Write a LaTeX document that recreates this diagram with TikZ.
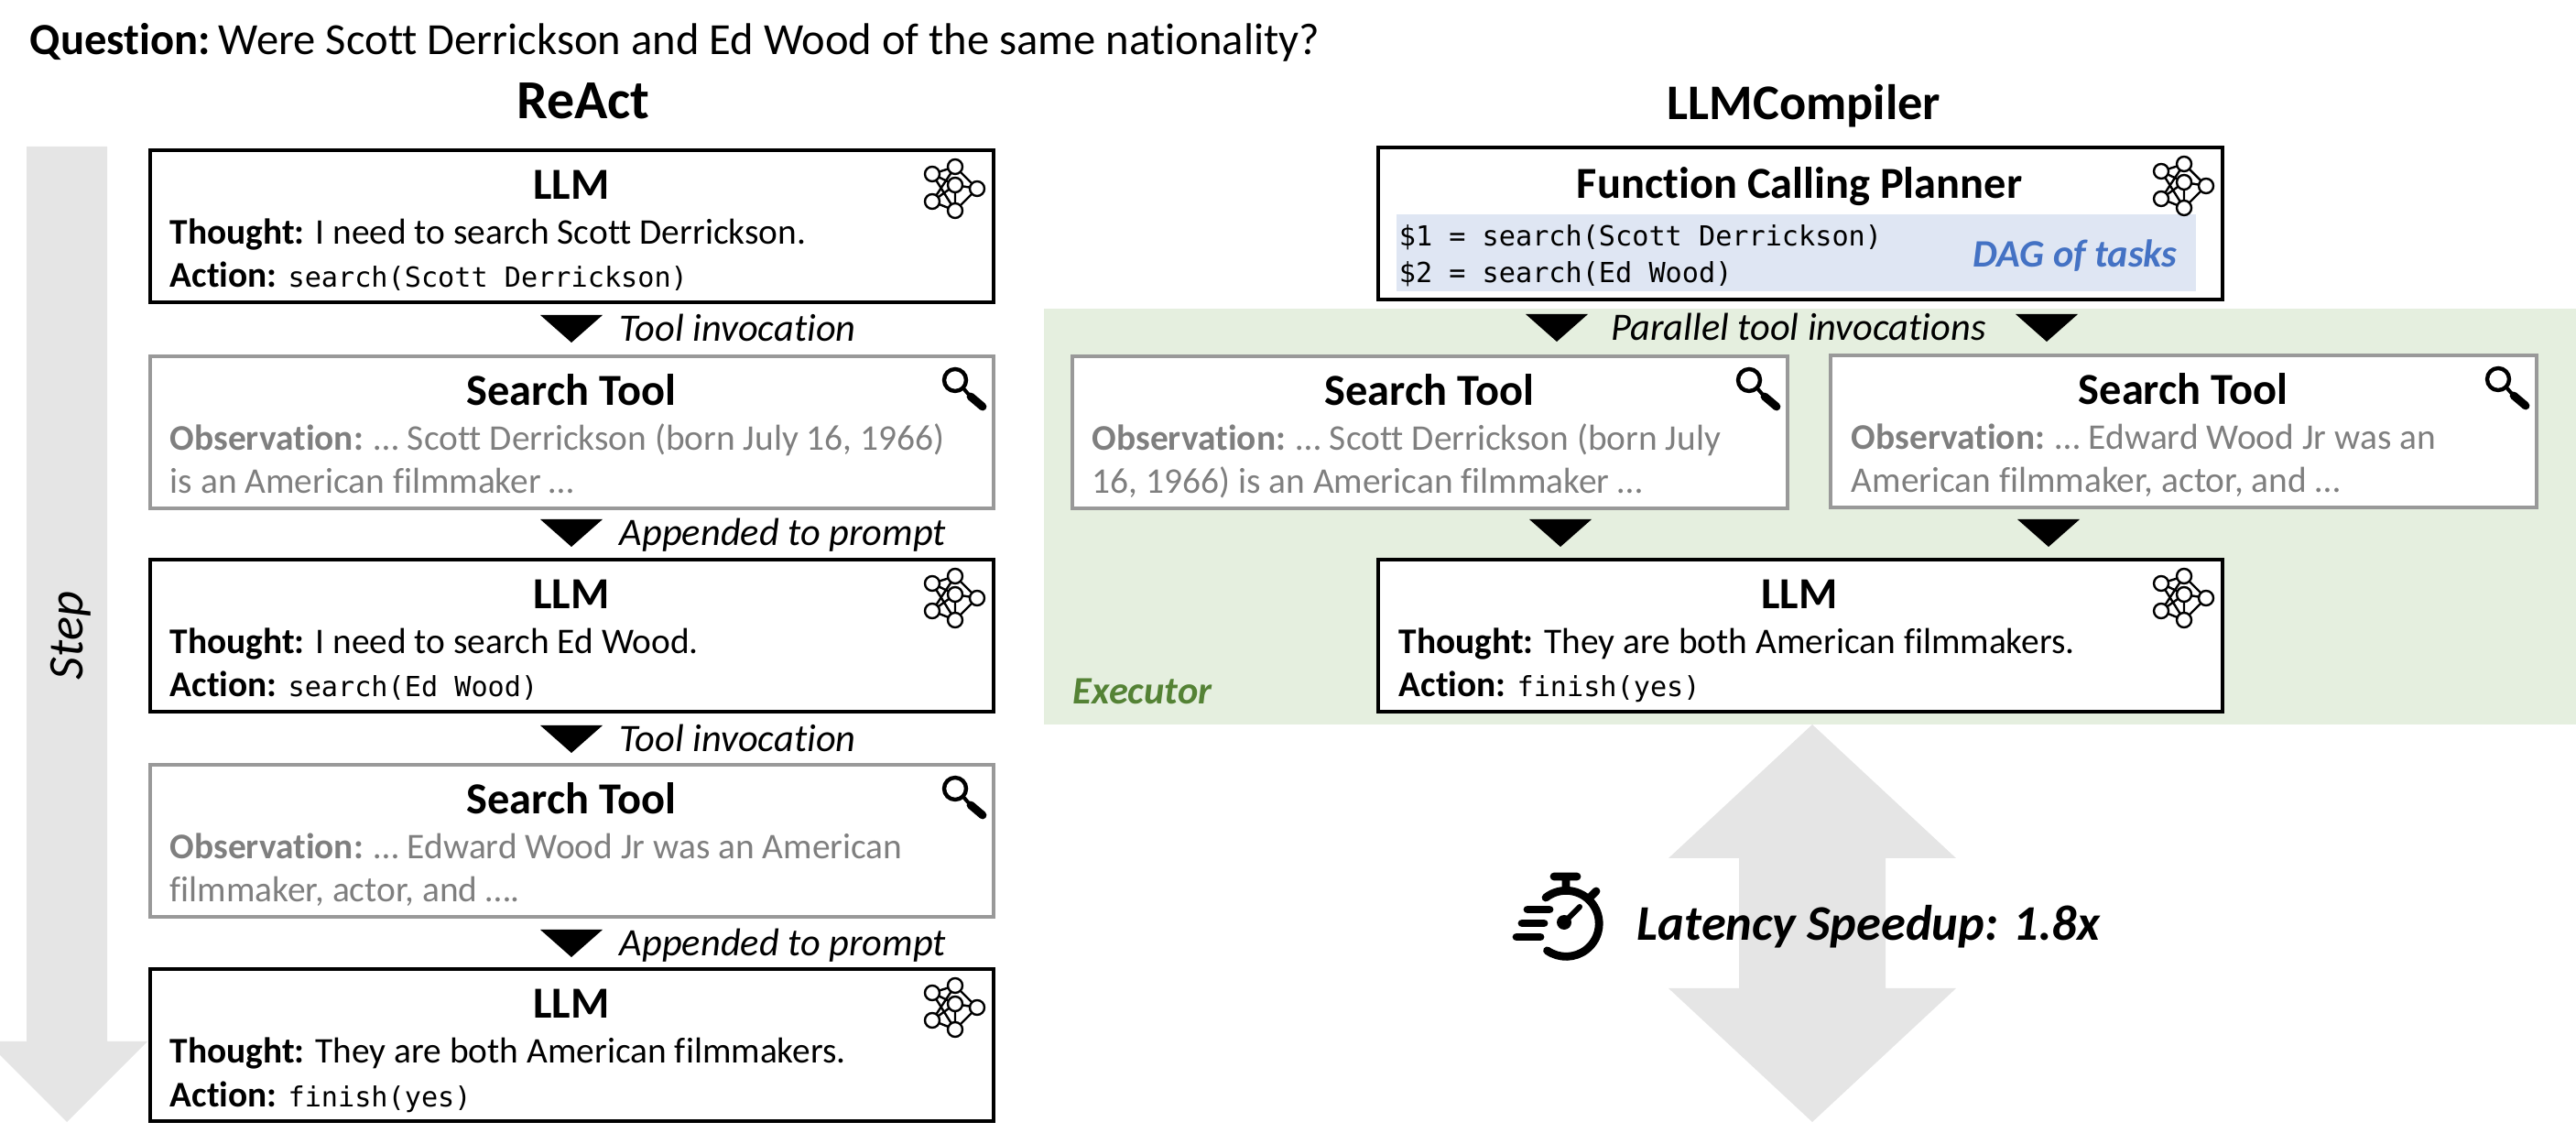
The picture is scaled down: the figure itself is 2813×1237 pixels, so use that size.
\documentclass[tikz,border=0pt]{standalone}
\usepackage{fontspec}
\setmainfont{Carlito}[Ligatures=NoCommon, RawFeature={-liga;-clig;-calt}]
\setmonofont{DejaVu Sans Mono}
\newcommand{\fsq}{\fontsize{12.15pt}{14pt}\selectfont}
\newcommand{\fstitle}{\fontsize{15pt}{17pt}\selectfont}
\newcommand{\fssub}{\fontsize{13.6pt}{15pt}\selectfont}
\newcommand{\fshead}{\fontsize{12.1pt}{14pt}\selectfont}
\newcommand{\fsbody}{\fontsize{9.85pt}{11pt}\selectfont}
\newcommand{\fslabel}{\fontsize{10.6pt}{12pt}\selectfont}
\newcommand{\fscode}{\fontsize{7.55pt}{9pt}\selectfont\ttfamily}
\definecolor{arrowgray}{HTML}{E5E5E5}
\definecolor{boxgray}{HTML}{999999}
\definecolor{textgray}{HTML}{7F7F7F}
\definecolor{execgreen}{HTML}{E5EFDF}
\definecolor{labelgreen}{HTML}{548235}
\definecolor{dagblue}{HTML}{DFE6F3}
\definecolor{labelblue}{HTML}{4472C4}
\begin{document}
\begin{tikzpicture}[x={(0.25pt, 0pt)}, y={(0pt, -0.25pt)}]
  \tikzstyle{llmbox}=[draw, line width=0.9pt, anchor=north west, inner sep=0pt, outer sep=0pt, fill=white]
  \tikzstyle{toolbox}=[draw=boxgray, line width=0.9pt, anchor=north west, inner sep=0pt, outer sep=0pt, fill=white]
  \tikzstyle{line}=[anchor=base west, inner sep=0pt]
  \tikzstyle{head}=[anchor=base, inner sep=0pt, font=\fshead\bfseries]
  \tikzstyle{obs}=[line, text=textgray, font=\fsbody]
  \tikzstyle{edgelabel}=[line, font=\fslabel\itshape]
  \tikzset{
    downtri/.pic={\fill (-34, 0) -- (34, 0) -- (0, 30) -- cycle;},
    llmicon/.pic={
      \foreach \name/\a/\b in {n1/-67/26, n2/-42/18, n3/-42/38, n4/-18/42, n5/-67/56, n6/-42/66}
        \coordinate (\name) at (\a, \b);
      \draw[line width=0.6pt] (n1) -- (n2) -- (n4) -- (n6) -- (n5) -- (n3) -- (n1) -- (n6) -- (n3) -- (n4) (n2) -- (n5);
      \foreach \name in {n1, n2, n3, n4, n5, n6}
        \filldraw[fill=white, line width=0.6pt] (\name) circle (2pt);
    },
    searchicon/.pic={
      \draw[line width=1.1pt] (-42, 26) circle (3pt);
      \draw[line width=1pt] (-33, 35) -- (-27, 42);
      \draw[line width=2.2pt, line cap=round] (-25, 44) -- (-12, 55);
    }
  }

  % background shapes
  \useasboundingbox (0, 0) rectangle (2813, 1237);
  \fill[execgreen] (1140, 337) rectangle (2813, 791);
  \fill[arrowgray] (29, 160) -- (117, 160) -- (117, 1137) -- (161, 1137) -- (73, 1225) -- (-15, 1137) -- (29, 1137) -- cycle;
  \fill[arrowgray] (1979, 791) -- (2136, 937) -- (2059, 937) -- (2059, 1079) -- (2136, 1079) -- (1979, 1225) -- (1822, 1079) -- (1899, 1079) -- (1899, 937) -- (1822, 937) -- cycle;

  % top line and titles
  \node[line, font=\fsq] (question) at (32, 60) {\textbf{Question:}\hspace{-0.12em} Were Scott Derrickson and Ed Wood of the same nationality?};
  \node[anchor=base, inner sep=0pt, font=\fstitle\bfseries] (react) at (637, 130) {ReAct};
  \node[anchor=base, inner sep=0pt, font=\fssub\bfseries] (compiler) at (1970, 131) {LLMCompiler};
  \node[rotate=90, inner sep=0pt, font=\fssub\itshape] (step) at (77, 694) {Step};

  % ReAct column
  \node[llmbox, minimum width=921*0.25pt, minimum height=166*0.25pt] (b1) at (164, 164) {};
  \node[head] (h1) at (624, 218) {LLM};
  \node[line, font=\fsbody] (t1) at (185, 267) {\textbf{Thought:} I need to search Scott Derrickson.};
  \node[line, font=\fsbody] (a1) at (185, 314) {\textbf{Action:} {\fscode search(Scott Derrickson)}};
  \pic at (b1.north east) {llmicon};

  \pic at (624, 344) {downtri};
  \node[edgelabel] (l1) at (676, 373) {Tool invocation};

  \node[toolbox, minimum width=921*0.25pt, minimum height=166*0.25pt] (b2) at (164, 389) {};
  \node[head] (h2) at (624, 443) {Search Tool};
  \node[obs] (t2) at (185, 492) {\textbf{Observation:} … Scott Derrickson (born July 16, 1966)};
  \node[obs] (a2) at (185, 539) {is an American filmmaker …};
  \pic at (b2.north east) {searchicon};

  \pic at (624, 567) {downtri};
  \node[edgelabel] (l2) at (676, 596) {Appended to prompt};

  \node[llmbox, minimum width=921*0.25pt, minimum height=166*0.25pt] (b3) at (164, 611) {};
  \node[head] (h3) at (624, 665) {LLM};
  \node[line, font=\fsbody] (t3) at (185, 714) {\textbf{Thought:} I need to search Ed Wood.};
  \node[line, font=\fsbody] (a3) at (185, 761) {\textbf{Action:} {\fscode search(Ed Wood)}};
  \pic at (b3.north east) {llmicon};

  \pic at (624, 792) {downtri};
  \node[edgelabel] (l3) at (676, 821) {Tool invocation};

  \node[toolbox, minimum width=921*0.25pt, minimum height=166*0.25pt] (b4) at (164, 835) {};
  \node[head] (h4) at (624, 889) {Search Tool};
  \node[obs] (t4) at (185, 938) {\textbf{Observation:} … Edward Wood Jr was an American};
  \node[obs] (a4) at (185, 985) {filmmaker, actor, and ….};
  \pic at (b4.north east) {searchicon};

  \pic at (624, 1015) {downtri};
  \node[edgelabel] (l4) at (676, 1044) {Appended to prompt};

  \node[llmbox, minimum width=921*0.25pt, minimum height=166*0.25pt] (b5) at (164, 1058) {};
  \node[head] (h5) at (624, 1112) {LLM};
  \node[line, font=\fsbody] (t5) at (185, 1161) {\textbf{Thought:} They are both American filmmakers.};
  \node[line, font=\fsbody] (a5) at (185, 1208) {\textbf{Action:} {\fscode finish(yes)}};
  \pic at (b5.north east) {llmicon};

  % LLMCompiler column
  \node[llmbox, minimum width=922*0.25pt, minimum height=166*0.25pt] (planner) at (1505, 161) {};
  \fill[dagblue] (1525, 234) rectangle (2398, 318);
  \node[head] (hp) at (1965, 217) {Function Calling Planner};
  \node[line, font=\fscode] (c1) at (1527, 269) {\$1 = search(Scott Derrickson)};
  \node[line, font=\fscode] (c2) at (1527, 309) {\$2 = search(Ed Wood)};
  \node[line, text=labelblue, font=\fslabel\bfseries\itshape] (dag) at (2154, 292) {DAG of tasks};
  \pic at (planner.north east) {llmicon};

  \pic at (1700, 343) {downtri};
  \pic at (2235, 343) {downtri};
  \node[anchor=base, inner sep=0pt, font=\fslabel\itshape] (l5) at (1964, 372) {Parallel tool invocations};

  \node[toolbox, minimum width=781*0.25pt, minimum height=166*0.25pt] (sl) at (1171, 389) {};
  \node[head] (hl) at (1561, 443) {Search Tool};
  \node[obs] (tl) at (1192, 492) {\textbf{Observation:} … Scott Derrickson (born July};
  \node[obs] (al) at (1192, 539) {16, 1966) is an American filmmaker …};
  \pic at (sl.north east) {searchicon};

  \node[toolbox, minimum width=771*0.25pt, minimum height=166*0.25pt] (sr) at (1999, 388) {};
  \node[head] (hr) at (2384, 442) {Search Tool};
  \node[obs] (tr) at (2021, 491) {\textbf{Observation:} … Edward Wood Jr was an};
  \node[obs] (ar) at (2021, 538) {American filmmaker, actor, and …};
  \pic at (sr.north east) {searchicon};

  \pic at (1704, 567) {downtri};
  \pic at (2237, 567) {downtri};

  \node[llmbox, minimum width=922*0.25pt, minimum height=166*0.25pt] (b6) at (1505, 611) {};
  \node[head] (h6) at (1965, 665) {LLM};
  \node[line, font=\fsbody] (t6) at (1527, 714) {\textbf{Thought:} They are both American filmmakers.};
  \node[line, font=\fsbody] (a6) at (1527, 761) {\textbf{Action:} {\fscode finish(yes)}};
  \pic at (b6.north east) {llmicon};

  \node[line, text=labelgreen, font=\fslabel\bfseries\itshape] (exec) at (1171, 769) {Executor};

  % latency note with stopwatch
  \draw[line width=2.2pt, line cap=round] (1688, 980) arc[start angle=-128, end angle=125, radius=36];
  \draw[line width=2.2pt, line cap=round] (1697, 957) -- (1722, 957) (1710, 957) -- (1710, 968) (1743, 973) -- (1736, 980);
  \draw[line width=2.2pt, line cap=round] (1668, 993) -- (1692, 993) (1662, 1008) -- (1686, 1008) (1656, 1023) -- (1682, 1023);
  \fill (1708, 1007) circle (2pt);
  \draw[line width=1.5pt, line cap=round] (1708, 1007) -- (1725, 990);
  \node[line, font=\fssub\bfseries\itshape] (speedup) at (1787, 1027) {Latency Speedup: 1.8x};
\end{tikzpicture}
\end{document}
